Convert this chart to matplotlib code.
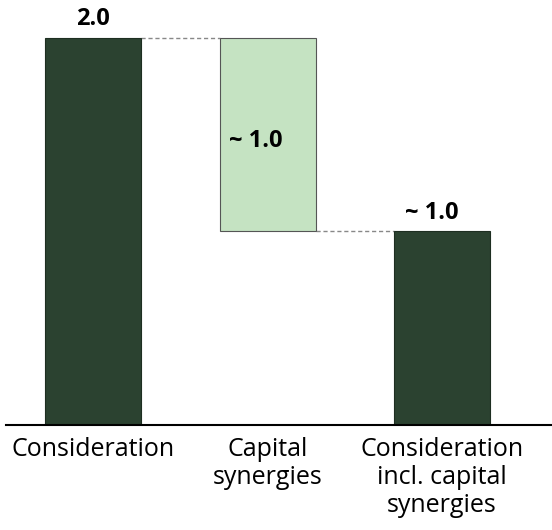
import matplotlib
matplotlib.use("Agg")
import matplotlib.pyplot as plt

categories = ["Consideration", "Capital\nsynergies", "Consideration\nincl. capital\nsynergies"]
bottoms = [0.0, 1.0, 0.0]
heights = [2.0, 1.0, 1.0]
labels = ["2.0", "~ 1.0", "~ 1.0"]

dark = "#2b4230"
light = "#c5e3c2"

plt.rcParams['font.family'] = ['Open Sans', 'DejaVu Sans']

fig = plt.figure(figsize=(5.52, 5.30), dpi=100)
ax = fig.add_axes([6 / 552, 105 / 530, 546 / 552, 425 / 530])

x = [0, 1, 2]
w = 0.55
colors = [dark, light, dark]
edges = ["#1e2e21", "#555555", "#1e2e21"]
ax.bar(x, heights, width=w, bottom=bottoms, color=colors, edgecolor=edges, linewidth=0.8, zorder=2)

# connectors
ax.plot([x[0] + w / 2, x[1] - w / 2], [bottoms[0] + heights[0]] * 2,
        ls=(0, (3, 2)), color="#888888", lw=1, zorder=1)
ax.plot([x[1] + w / 2, x[2] - w / 2], [bottoms[1]] * 2,
        ls=(0, (3, 2)), color="#888888", lw=1, zorder=1)

# value labels
ax.text(x[0], heights[0] + 0.035, labels[0], ha="center", va="bottom",
        fontsize=17, fontweight="bold")
ax.text(x[1] - 0.065, bottoms[1] + heights[1] / 2 - 0.03, labels[1], ha="center", va="center",
        fontsize=17, fontweight="bold")
ax.text(x[2] - 0.06, bottoms[2] + heights[2] + 0.035, labels[2], ha="center", va="bottom",
        fontsize=17, fontweight="bold")

ax.set_xlim(-0.4986, 2.630)
ax.set_ylim(0, 2.196)
ax.set_xticks(x)
ax.set_xticklabels(categories, fontsize=18, linespacing=1.15)
ax.tick_params(axis="x", length=0, pad=9)
ax.set_yticks([])
for s in ["top", "right", "left"]:
    ax.spines[s].set_visible(False)
ax.spines["bottom"].set_linewidth(1.5)

fig.savefig("out.png", dpi=100)
